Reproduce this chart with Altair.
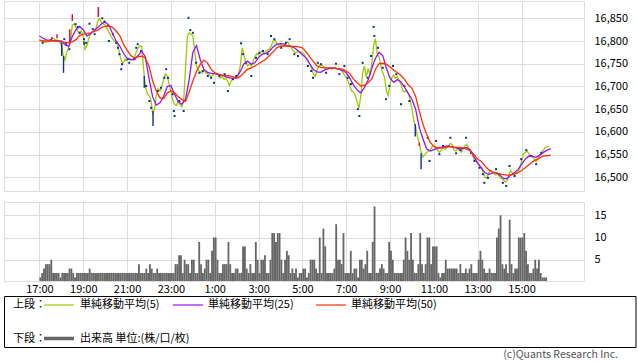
import altair as alt
import pandas as pd

# ---------------- data ----------------
# minutes after 17:00; 5-minute grid for MA(5) and volume, 10-minute grid for MA(25)/MA(50)
ma5 = [16803,16800,16800,16797,16798, 16798,16800,16807,16805,16802, 16802,16800,16790,16770,16758,
       16775,16785,16800,16835,16838, 16830,16822,16818,16822,16810, 16782,16790,16805,16815,16820,
       16822,16828,16845,16850,16840, 16838,16835,16828,16820,16812, 16805,16800,16798,16790,16770,
       16755,16752,16760,16758,16762, 16758,16760,16762,16775,16785, 16790,16788,16740,16700,16685,
       16680,16672,16640,16650,16680, 16695,16690,16700,16715,16728, 16722,16705,16690,16670,16660,
       16658,16668,16660,16655,16670, 16740,16810,16818,16815,16812, 16780,16745,16735,16732,16730,
       16735,16730,16728,16725,16722, 16725,16730,16728,16725,16718, 16722,16715,16718,16712,16702,
       16712,16718,16720,16722,16728, 16745,16785,16770,16750,16745, 16750,16745,16755,16765,16772,
       16770,16775,16778,16772,16778, 16780,16782,16790,16800,16802, 16795,16790,16792,16788,16790,
       16795,16798,16790,16785,16778, 16775,16775,16778,16776,16775, 16770,16762,16758,16750,16740,
       16728,16722,16735,16745,16748, 16745,16742,16740,16738,16740, 16738,16740,16742,16738,16740,
       16736,16732,16725,16720,16712, 16700,16690,16688,16680,16665, 16652,16680,16730,16745,16720,
       16740,16725,16750,16790,16805, 16770,16765,16745,16730,16720, 16690,16680,16705,16720,16725,
       16718,16722,16712,16705,16690, 16688,16692,16685,16670,16650, 16625,16610,16590,16575,16555,
       16545,16550,16555,16558,16560, 16568,16570,16565,16560,16555, 16560,16565,16562,16565,16570,
       16575,16572,16560,16558,16562, 16560,16555,16562,16570,16572, 16565,16560,16550,16540,16535,
       16530,16525,16522,16510,16500, 16498,16510,16515,16512,16508, 16505,16510,16500,16497,16495,
       16490,16492,16505,16515,16510, 16508,16510,16512,16520,16535, 16550,16555,16558,16552,16548,
       16545,16540,16535,16540,16550, 16555,16560,16566,16567,16567]

ma25 = [16811,16806,16802,16802,16801, 16800,16800,16792,16788,16810, 16825,16832,16825,16811,16816,
        16823,16830,16838,16842,16835, 16817,16800,16789,16773,16762, 16759,16759,16768,16778,16765,
        16718,16677,16659,16664,16678, 16700,16702,16683,16667,16661, 16672,16715,16775,16790,16760,
        16738,16731,16729,16728,16726, 16725,16721,16719,16718,16720, 16733,16750,16756,16749,16752,
        16764,16771,16773,16778,16787, 16793,16794,16793,16789,16788, 16784,16777,16770,16763,16750,
        16737,16732,16731,16736,16739, 16741,16740,16738,16735,16730, 16718,16703,16692,16686,16698,
        16714,16740,16762,16775,16768, 16740,16718,16709,16715,16710, 16698,16684,16672,16650,16610,
        16585,16563,16558,16561,16564, 16566,16568,16569,16567,16565, 16563,16564,16566,16560,16545,
        16532,16521,16510,16506,16510, 16510,16505,16498,16497,16505, 16510,16517,16528,16540,16547,
        16546,16544,16549,16555,16560, 16563]

ma50 = [16802,16800,16800,16800,16800, 16799,16798,16797,16796,16798, 16803,16812,16815,16816,16818,
        16821,16824,16830,16832,16833, 16830,16822,16812,16793,16780, 16768,16763,16765,16767,16762,
        16745,16712,16690,16675,16673, 16686,16690,16686,16678,16671, 16667,16688,16712,16733,16748,
        16758,16752,16738,16730,16727, 16725,16724,16723,16721,16718, 16722,16730,16738,16741,16745,
        16750,16755,16760,16768,16776, 16785,16788,16789,16789,16788, 16788,16787,16785,16776,16765,
        16755,16745,16742,16741,16741, 16741,16740,16739,16738,16734, 16728,16716,16708,16701,16703,
        16708,16716,16738,16750,16751, 16749,16743,16736,16730,16724, 16715,16703,16696,16678,16646,
        16617,16595,16577,16568,16565, 16565,16566,16567,16567,16566, 16566,16565,16562,16558,16550,
        16540,16535,16525,16517,16512, 16510,16507,16506,16505,16505, 16507,16510,16515,16521,16528,
        16534,16539,16543,16547,16548, 16549]

volume = [1,2,3,4,4,4,5,2,2,2, 2,1,2,2,2,2,3,3,2,1, 2,2,2,2,2,2,2,3,2,2, 2,2,2,2,2,2,2,2,2,2,
          2,2,2,2,2,2,2,2,2,2, 2,2,2,2,4,2,2,2,3,2, 4,3,2,2,3,2,2,2,2,2, 2,2,2,2,4,4,6,6,2,5,
          4,4,2,5,5,2,2,9,4,2, 3,5,5,2,7,10,10,5,2,2, 4,4,4,9,4,2,2,3,3,2, 2,8,8,3,2,4,2,2,9,5,
          2,5,5,6,2,2,5,11,11,9, 11,11,5,2,5,7,6,2,3,2, 3,1,2,2,3,3,1,2,5,5, 5,3,2,10,2,12,8,2,2,2,
          2,3,13,5,5,4,11,2,2,2, 7,2,3,3,1,5,5,3,4,7, 2,2,9,17,2,2,3,4,3,2, 2,9,7,5,2,2,2,2,2,5,
          10,7,5,11,5,2,2,4,11,4, 2,4,10,10,4,8,8,8,2,1, 2,2,5,3,3,3,3,3,3,2, 4,2,2,3,2,3,4,2,2,2,
          5,7,5,3,2,2,3,2,2,2, 10,12,15,4,3,4,2,14,4,2, 3,3,10,10,10,11,7,4,2,2, 3,5,3,5,2,1,1,1]

# single-minute candles that stand out (minute, open, close)
cand_t = [34, 48, 61, 66, 83, 90, 122, 161, 287, 311, 1029, 1040, 1045]
cand_o = [16804, 16806, 16796, 16767, 16793, 16844, 16799, 16853, 16723, 16646, 16617, 16569, 16553]
cand_c = [16809, 16815, 16767, 16730, 16826, 16859, 16791, 16875, 16697, 16613, 16590, 16576, 16518]

# small candles drawn as dots (minute, price)
dot_t = [9,32,68,73,82,99,105,110,122,128,137,146,151,172,178,187,190,201,210,215,219,224,226,242,246,
         260,265,269,278,292,301,306,324,333,342,
         347,352,365,368,370,383,395,408,413,420,429,438,447,461,470,478,493,507,516,530,539,552,557,566,
         580,593,602,612,625,634,643,662,675,
         685,698,708,735,744,749,762,771,785,812,821,835,844,853,872,876,885,899,908,915,917,927,940,949,
         958,968,977,990,999,1013,
         1063,1068,1086,1095,1105,1125,1141,1153,1168,1182,1191,1205,1214,1218,1228,1250,1259,1269,1278,
         1287,1301,1319,1333,1346,1360,1374]
dot_p = [16796,16802,16804,16793,16782,16837,16831,16818,16804,16796,16838,16826,16815,16850,16843,16833,
         16800,16815,16796,16785,16771,16738,16749,16760,16752,16760,16785,16793,16778,16701,16668,16653,
         16690,16697,16719,
         16738,16719,16683,16646,16635,16668,16646,16851,16824,16818,16752,16730,16734,16723,16719,16708,
         16723,16727,16690,16716,16723,16795,16771,16752,16723,16763,16774,16778,16771,16811,16804,16785,
         16796,
         16804,16771,16767,16745,16734,16719,16752,16749,16730,16750,16727,16745,16719,16705,16650,16635,
         16752,16719,16767,16831,16811,16785,16741,16672,16701,16745,16727,16661,16701,16668,
         16587,16536,16580,16551,16569,16587,16553,16560,16587,16554,16536,16521,16507,16488,16499,16518,
         16507,16488,16481,16525,16503,16540,16560,16547,16529,16554]

price_ticks = [16500, 16550, 16600, 16650, 16700, 16750, 16800, 16850]
vol_ticks = [5, 10, 15]
time_ticks = [0, 120, 240, 360, 480, 600, 720, 840, 960, 1080, 1200, 1320]  # 17:00 ... 15:00

legend_texts = ["上段：", "単純移動平均(5)", "単純移動平均(25)", "単純移動平均(50)",
                "下段：", "出来高 単位:(株/口/枚)"]
copyright_text = "(c)Quants Research Inc."

# ---------------- tables ----------------
df5 = pd.DataFrame({"t": [5 * i for i in range(len(ma5))], "v": ma5})
df25 = pd.DataFrame({"t": [10 * i for i in range(len(ma25))], "v": ma25})
df50 = pd.DataFrame({"t": [10 * i for i in range(len(ma50))], "v": ma50})
dfv = pd.DataFrame({"t0": [5 * i for i in range(len(volume))],
                    "t1": [5 * i + 5 for i in range(len(volume))], "v": volume})
dfc = pd.DataFrame({"t": cand_t, "o": cand_o, "c": cand_c})
dfc["up"] = dfc["c"] > dfc["o"]
dfd = pd.DataFrame({"t": dot_t, "p": dot_p})
one = pd.DataFrame({"k": [0]})

GREEN, PURPLE, RED, NAVY, GRAY = "#99cc00", "#9911ff", "#ff3300", "#0a3296", "#666666"
W = 580
FONT = "Noto Sans CJK JP"

xs = alt.Scale(domain=[-97, 1491], nice=False, zero=False)
ps = alt.Scale(domain=[16470, 16888], nice=False, zero=False)
vs = alt.Scale(domain=[0.2, 18.0], nice=False, zero=False)

x_top_axis = alt.Axis(values=time_ticks, labels=False, ticks=False, domain=False,
                      grid=True, title=None)
x_bot_axis = alt.Axis(values=time_ticks, ticks=False, domain=False, grid=True, title=None,
                      labelExpr="floor(17 + datum.value / 60) % 24 + ':00'",
                      labelPadding=2, labelFontSize=11, labelColor="#000", labelFont=FONT)
p_axis = alt.Axis(orient="right", values=price_ticks, format=",.0f", ticks=False, domain=False,
                  grid=True, title=None, labelPadding=10, labelFontSize=11, labelColor="#000",
                  labelFont=FONT)
v_axis = alt.Axis(orient="right", values=vol_ticks, format="d", ticks=False, domain=False,
                  grid=True, title=None, labelPadding=10, labelFontSize=11, labelColor="#000",
                  labelFont=FONT)

X = lambda f: alt.X(f, type="quantitative", scale=xs, axis=x_top_axis)
Y = lambda f: alt.Y(f, type="quantitative", scale=ps, axis=p_axis)

def ma_line(df, color):
    return alt.Chart(df).mark_line(color=color, strokeWidth=1.3, interpolate="linear").encode(
        x=X("t"), y=Y("v"))

green = ma_line(df5, GREEN)
dots = alt.Chart(dfd).mark_square(size=4, color=NAVY, opacity=1).encode(x=X("t"), y=Y("p"))
candles = alt.Chart(dfc).mark_rule(strokeWidth=1.4).encode(
    x=X("t"), y=Y("o"), y2="c",
    color=alt.condition("datum.up", alt.value("#ee0033"), alt.value(NAVY)))
purple = ma_line(df25, PURPLE)
red = ma_line(df50, RED)

top = alt.layer(green, dots, candles, purple, red).properties(width=W, height=190)

# ---------------- volume panel (+ legend box below it) ----------------
vol = alt.Chart(dfv).mark_rect(color=GRAY, clip=True).encode(
    x=alt.X("t0", type="quantitative", scale=xs, axis=x_bot_axis), x2="t1",
    y=alt.Y("v", type="quantitative", scale=vs, axis=v_axis), y2=alt.value(79))

def txt(s, x, y, size=11, color="#000", align="left"):
    return alt.Chart(one).mark_text(align=align, baseline="middle", fontSize=size, font=FONT,
                                    color=color).encode(x=alt.value(x), y=alt.value(y),
                                                        text=alt.value(s))

def seg(x1, x2, y, color, w):
    return alt.Chart(one).mark_rule(color=color, strokeWidth=w).encode(
        x=alt.value(x1), x2=alt.value(x2), y=alt.value(y))

box = alt.Chart(one).mark_rect(fillOpacity=0, stroke="#000", strokeWidth=1).encode(
    x=alt.value(0.5), x2=alt.value(632), y=alt.value(94.5), y2=alt.value(145.5))

R1, R2 = 103, 136.5
legend_layers = [
    box,
    txt(legend_texts[0], 9, R1),
    seg(40, 70, R1, GREEN, 1.2), txt(legend_texts[1], 76, R1),
    seg(169, 199, R1, PURPLE, 1.2), txt(legend_texts[2], 204, R1),
    seg(312, 342, R1, RED, 1.2), txt(legend_texts[3], 347, R1),
    txt(legend_texts[4], 9, R2),
    seg(40, 70, R2, GRAY, 3.5), txt(legend_texts[5], 76, R2),
    txt(copyright_text, 614, 153, size=10.5, color="#555", align="right"),
]

bottom = alt.layer(vol, *legend_layers).properties(width=W, height=79)

chart = alt.vconcat(top, bottom, spacing=11, bounds="flush").properties(
    padding={"left": 3, "top": 0, "right": 0, "bottom": 0}
).configure_view(stroke="#999999", strokeWidth=1).configure_axis(
    gridColor="#999999", gridWidth=1, gridOpacity=1
).configure(background="#ffffff")

chart.save("out.html", embed_options={"renderer": "svg", "actions": False})
